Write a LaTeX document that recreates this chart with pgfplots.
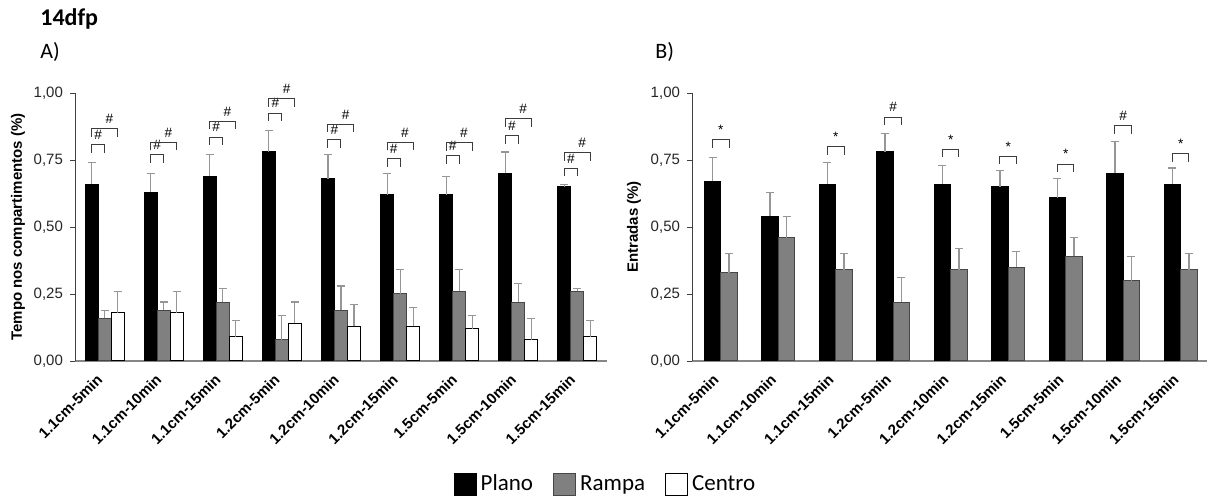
\documentclass[border=0pt]{standalone}
\usepackage{pgfplots}
\usepackage{pgfplotstable}
\pgfplotsset{compat=1.18}
\usepackage{fontspec}
\setmainfont{Liberation Sans}
\newfontfamily\calibri{Carlito}

\definecolor{rampa}{RGB}{128,128,128}
\definecolor{rampaedge}{RGB}{70,70,70}
\definecolor{errgray}{RGB}{150,150,150}
\definecolor{axgray}{RGB}{134,134,134}
\definecolor{brkgray}{RGB}{60,60,60}

% Tempo nos compartimentos: mean and upper error (SEM)
\pgfplotstableread{
x plano pe   rampa re   centro ce
0 0.66  0.08 0.16  0.03 0.18   0.08
1 0.63  0.07 0.19  0.03 0.18   0.08
2 0.69  0.08 0.22  0.05 0.09   0.06
3 0.78  0.08 0.08  0.09 0.14   0.08
4 0.68  0.09 0.19  0.09 0.13   0.08
5 0.62  0.08 0.25  0.09 0.13   0.07
6 0.62  0.07 0.26  0.08 0.12   0.05
7 0.70  0.08 0.22  0.07 0.08   0.08
8 0.65  0.01 0.26  0.01 0.09   0.06
}\tempo

% Entradas: mean and upper error (SEM)
\pgfplotstableread{
x plano pe   rampa re
0 0.67  0.09 0.33  0.07
1 0.54  0.09 0.46  0.08
2 0.66  0.08 0.34  0.06
3 0.78  0.07 0.22  0.09
4 0.66  0.07 0.34  0.08
5 0.65  0.06 0.35  0.06
6 0.61  0.07 0.39  0.07
7 0.70  0.12 0.30  0.09
8 0.66  0.06 0.34  0.06
}\entradas

% significance bracket: from x1 to x2 at height top, symbol shifted by dx
\newcommand{\brk}[5][0]{%
  \draw[brkgray, line width=0.5pt] (axis cs:#2,#4-0.03) -- (axis cs:#2,#4) -- (axis cs:#3,#4) -- (axis cs:#3,#4-0.03);
  \node[anchor=south, inner sep=0pt, font=\fontsize{6.8}{7}\selectfont] at (axis cs:{(#2+#3)/2+#1},#4+0.018) {#5};}

\pgfplotsset{
  sqlegend/.style={legend image code/.code={\draw[##1, line width=0.5pt] (0pt,-5.5pt) rectangle (11pt,5.5pt);}},
  panel/.style={
    scale only axis,
    height=134pt,
    ymin=0, ymax=1,
    ybar=0pt,
    clip=false,
    axis x line=bottom, axis y line=left,
    x axis line style={-, draw=axgray, line width=0.9pt},
    y axis line style={-, draw=black!75, line width=0.45pt},
    ytick={0,0.25,0.5,0.75,1},
    /pgf/number format/fixed,
    /pgf/number format/fixed zerofill,
    /pgf/number format/precision=2,
    /pgf/number format/use comma,
    /pgf/number format/assume math mode=true,
    yticklabel style={font=\fontsize{7.5}{9}\selectfont, text=black!85},
    ytick style={draw=black!75, line width=0.45pt},
    tick align=outside, major tick length=2.5pt,
    xtick={0,...,8},
    xtick style={draw=none},
    xticklabels={1.1cm-5min,1.1cm-10min,1.1cm-15min,1.2cm-5min,1.2cm-10min,1.2cm-15min,1.5cm-5min,1.5cm-10min,1.5cm-15min},
    xticklabel style={rotate=45, anchor=east, font=\bfseries\fontsize{7.5}{9}\selectfont},
    xticklabel shift=3pt,
    xmin=-0.5, xmax=8.5,
    ylabel style={font=\bfseries\fontsize{7.5}{9}\selectfont},
  },
  errs/.style={error bars/.cd, y dir=plus, y explicit,
    error bar style={errgray, line width=0.55pt},
    error mark options={errgray, rotate=90, mark size=2pt, line width=0.55pt}},
}

\begin{document}
\begin{tikzpicture}
\useasboundingbox (0,0) rectangle (603.5pt,248.5pt);

\node[anchor=base west, inner sep=0pt, font=\calibri\bfseries\fontsize{12}{14}\selectfont] at (20pt,235.5pt) {14dfp};
\node[anchor=base west, inner sep=0pt, font=\calibri\fontsize{11}{13}\selectfont] at (20pt,219pt) {A)};
\node[anchor=base west, inner sep=0pt, font=\calibri\fontsize{11}{13}\selectfont] at (327.5pt,219pt) {B)};

% A) Tempo nos compartimentos
\begin{axis}[panel,
  at={(37.5pt,68pt)}, anchor=south west,
  width=266pt,
  bar width=6.5pt,
  ylabel={Tempo nos compartimentos (\%)},
  ylabel style={at={(axis description cs:-0.107,0.5)}, anchor=center},
  legend style={at={(0.999,-0.46)}, anchor=center, draw=none, fill=none,
    legend columns=3, font=\calibri\fontsize{11.5}{13}\selectfont,
    /tikz/every odd column/.append style={column sep=0pt},
    /tikz/every even column/.append style={column sep=8pt},
    nodes={inner xsep=2pt}},
]
\addplot[fill=black, draw=black, line width=0.5pt, bar shift=-6.5pt, sqlegend, errs] table[x=x, y=plano, y error=pe] {\tempo};
\addplot[fill=rampa, draw=rampaedge, line width=0.5pt, bar shift=0pt, sqlegend, errs] table[x=x, y=rampa, y error=re] {\tempo};
\addplot[fill=white, draw=black, line width=0.5pt, bar shift=6.5pt, sqlegend, errs] table[x=x, y=centro, y error=ce] {\tempo};
\legend{Plano, Rampa, Centro}

\brk{-0.22}{0}{0.806}{\#}  \brk[0.08]{-0.22}{0.22}{0.866}{\#}
\brk{0.78}{1}{0.770}{\#}   \brk[0.08]{0.78}{1.22}{0.816}{\#}
\brk{1.78}{2}{0.835}{\#}   \brk[0.08]{1.78}{2.22}{0.894}{\#}
\brk{2.78}{3}{0.925}{\#}   \brk[0.08]{2.78}{3.22}{0.978}{\#}
\brk{3.78}{4}{0.825}{\#}   \brk[0.08]{3.78}{4.22}{0.883}{\#}
\brk{4.78}{5}{0.754}{\#}   \brk[0.08]{4.78}{5.22}{0.816}{\#}
\brk{5.78}{6}{0.765}{\#}   \brk[0.08]{5.78}{6.22}{0.814}{\#}
\brk{6.78}{7}{0.841}{\#}   \brk[0.08]{6.78}{7.22}{0.904}{\#}
\brk{7.78}{8}{0.719}{\#}   \brk[0.08]{7.78}{8.22}{0.778}{\#}
\end{axis}

% B) Entradas
\begin{axis}[panel,
  at={(346pt,68pt)}, anchor=south west,
  width=258.75pt,
  bar width=8.25pt,
  ylabel={Entradas (\%)},
  ylabel style={at={(axis description cs:-0.112,0.5)}, anchor=center},
]
\addplot[fill=black, draw=black, line width=0.5pt, bar shift=-4.125pt, errs] table[x=x, y=plano, y error=pe] {\entradas};
\addplot[fill=rampa, draw=rampaedge, line width=0.5pt, bar shift=4.125pt, errs] table[x=x, y=rampa, y error=re] {\entradas};

\brk{-0.1435}{0.1435}{0.826}{*}
\brk{1.8565}{2.1435}{0.800}{*}
\brk{2.8565}{3.1435}{0.910}{\#}
\brk{3.8565}{4.1435}{0.790}{*}
\brk{4.8565}{5.1435}{0.764}{*}
\brk{5.8565}{6.1435}{0.735}{*}
\brk{6.8565}{7.1435}{0.878}{\#}
\brk{7.8565}{8.1435}{0.774}{*}
\end{axis}
\end{tikzpicture}
\end{document}
